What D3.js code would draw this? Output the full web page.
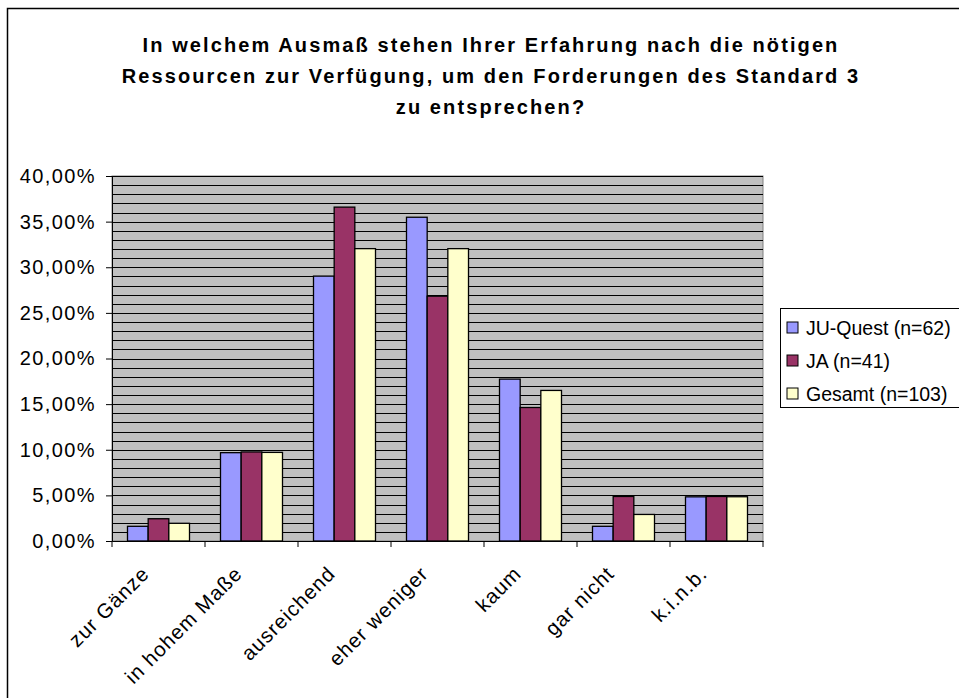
<!DOCTYPE html>
<html>
<head>
<meta charset="utf-8">
<script src="https://cdn.jsdelivr.net/npm/d3@7"></script>
<style>
  body { margin: 0; background: #fff; }
  svg { display: block; font-family: "Liberation Sans", Arial, sans-serif; }
</style>
</head>
<body>
<div class="chart"></div>
<script>
// data (shares, in %)
var categories = ["zur Gänze", "in hohem Maße", "ausreichend", "eher weniger", "kaum", "gar nicht", "k.i.n.b."];
var seriesNames = ["JU-Quest (n=62)", "JA (n=41)", "Gesamt (n=103)"];
var juQuest = [1.61, 9.68, 29.03, 35.48, 17.74, 1.61, 4.84];
var ja = [2.44, 9.76, 36.59, 26.83, 14.63, 4.88, 4.88];
var gesamt = [1.94, 9.71, 32.04, 32.04, 16.50, 2.91, 4.85];
var yTicks = [0, 5, 10, 15, 20, 25, 30, 35, 40];
var titleLines = [
  "In welchem Ausmaß stehen Ihrer Erfahrung nach die nötigen",
  "Ressourcen zur Verfügung, um den Forderungen des Standard 3",
  "zu entsprechen?"
];

var colors = ["#9999ff", "#993366", "#ffffcc"];
var values = [juQuest, ja, gesamt];

var W = 959, H = 698;
var svg = d3.select("div.chart").append("svg")
  .attr("width", W).attr("height", H);

// outer chart frame (runs off the right/bottom edge)
svg.append("rect")
  .attr("x", 7.5).attr("y", 8.5)
  .attr("width", 980).attr("height", 720)
  .attr("fill", "#fff").attr("stroke", "#000").attr("stroke-width", 1.5);

var plot = {left: 112, right: 763, top: 176, bottom: 541};

var x = d3.scaleBand().domain(categories).range([plot.left, plot.right]);
var xs = d3.scaleBand().domain(seriesNames).range([0, x.bandwidth()]).paddingOuter(0.75);
var y = d3.scaleLinear().domain([0, 40]).range([plot.bottom, plot.top]);

var de = d3.formatLocale({decimal: ",", thousands: ".", grouping: [3], currency: ["", " €"]});
var fmt = de.format(".2f");

// plot background
svg.append("rect")
  .attr("x", plot.left).attr("y", plot.top)
  .attr("width", plot.right - plot.left).attr("height", plot.bottom - plot.top)
  .attr("fill", "#c0c0c0").attr("stroke", "#808080");

// gridlines every 1 %
svg.append("g").selectAll("line")
  .data(d3.range(1, 41))
  .enter().append("line")
  .attr("x1", plot.left).attr("x2", plot.right)
  .attr("y1", function(d){ return Math.round(y(d)) + 0.5; })
  .attr("y2", function(d){ return Math.round(y(d)) + 0.5; })
  .attr("stroke", "#000").attr("stroke-width", 1.2);

// bars
var groups = svg.append("g").selectAll("g")
  .data(seriesNames)
  .enter().append("g")
  .attr("fill", function(d, i){ return colors[i]; });

groups.selectAll("rect")
  .data(function(s, i){ return values[i].map(function(v, j){ return {s: s, c: categories[j], v: v}; }); })
  .enter().append("rect")
  .attr("x", function(d){ return x(d.c) + xs(d.s); })
  .attr("width", xs.bandwidth())
  .attr("y", function(d){ return y(d.v); })
  .attr("height", function(d){ return y(0) - y(d.v); })
  .attr("stroke", "#000").attr("stroke-width", 1.3);

// y axis
var yAxis = d3.axisLeft(y).tickValues(yTicks).tickSize(6).tickPadding(10)
  .tickFormat(function(d){ return fmt(d) + "%"; });
var gy = svg.append("g").attr("transform", "translate(" + plot.left + ",0)").call(yAxis);
gy.select(".domain").attr("stroke", "#000");
gy.selectAll(".tick line").attr("stroke", "#000");
gy.selectAll(".tick text").attr("font-size", 20).attr("fill", "#000")
  .attr("letter-spacing", 1.4)
  .attr("font-family", "Liberation Sans, Arial, sans-serif");

// x axis: ticks between categories
var xAxis = d3.axisBottom(x).tickSize(0).tickFormat("");
var gx = svg.append("g").attr("transform", "translate(0," + plot.bottom + ")").call(xAxis);
gx.select(".domain").attr("stroke", "#000");
gx.selectAll(".tick").remove();
gx.selectAll("line.sep")
  .data(categories.concat(["end"]))
  .enter().append("line")
  .attr("x1", function(d, i){ return i < categories.length ? x(d) : plot.right; })
  .attr("x2", function(d, i){ return i < categories.length ? x(d) : plot.right; })
  .attr("y1", 0).attr("y2", 6)
  .attr("stroke", "#000");

gx.selectAll("text.lbl")
  .data(categories)
  .enter().append("text")
  .attr("class", "lbl")
  .attr("text-anchor", "end")
  .attr("fill", "#000")
  .attr("font-size", 20.5)
  .attr("letter-spacing", 1)
  .attr("transform", function(d){
    return "translate(" + (x(d) + x.bandwidth() / 2 - 8) + ",34) rotate(-45)";
  })
  .text(function(d){ return d; });

// title
var title = svg.append("g").attr("font-weight", "bold").attr("font-size", 20)
  .attr("text-anchor", "middle");
title.selectAll("text")
  .data(titleLines)
  .enter().append("text")
  .attr("x", 491)
  .attr("y", function(d, i){ return 52 + i * 31; })
  .attr("letter-spacing", 2.1)
  .text(function(d){ return d; });

// legend
var legend = svg.append("g").attr("transform", "translate(780,308)");
legend.append("rect")
  .attr("x", 0.5).attr("y", 0.5).attr("width", 220).attr("height", 99)
  .attr("fill", "#fff").attr("stroke", "#000");
var items = legend.selectAll("g.item")
  .data(seriesNames)
  .enter().append("g")
  .attr("class", "item")
  .attr("transform", function(d, i){ return "translate(0," + (20 + i * 33) + ")"; });
items.append("rect")
  .attr("x", 7).attr("y", -6).attr("width", 11).attr("height", 11)
  .attr("fill", function(d, i){ return colors[i]; })
  .attr("stroke", "#000");
items.append("text")
  .attr("x", 26).attr("y", 7)
  .attr("font-size", 19.5)
  .text(function(d){ return d; });
</script>
</body>
</html>
